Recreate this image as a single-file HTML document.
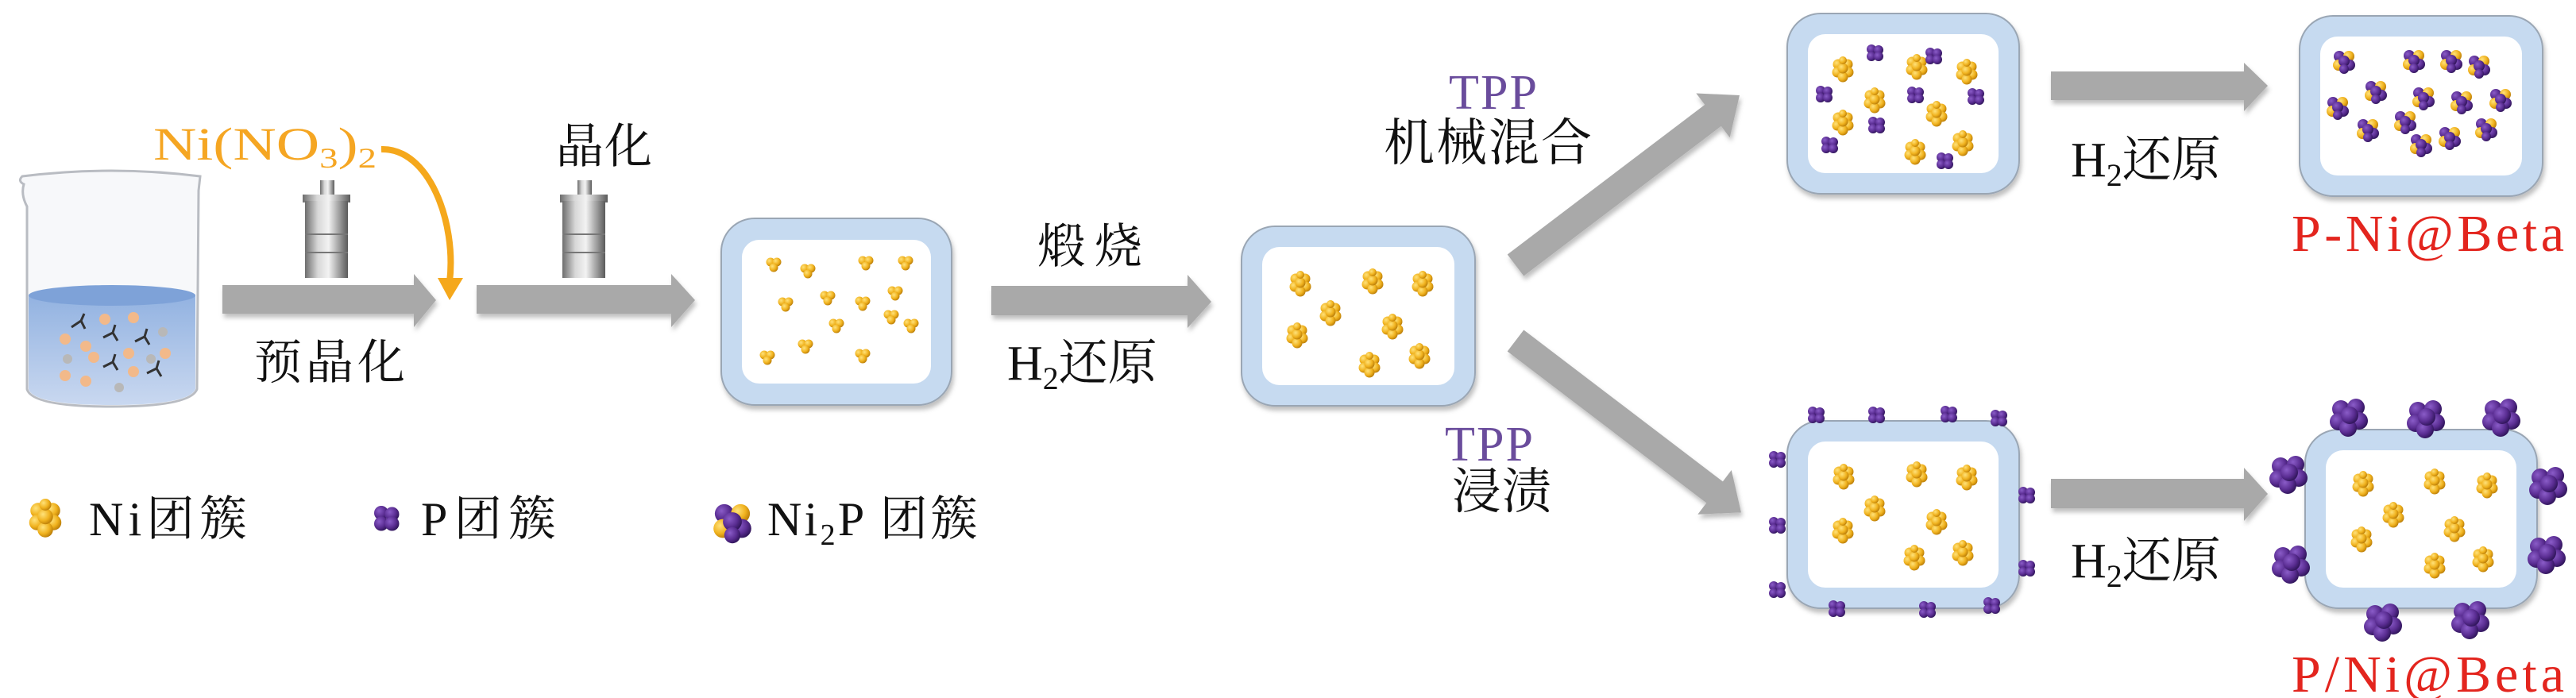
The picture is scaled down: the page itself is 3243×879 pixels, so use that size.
<!DOCTYPE html>
<html><head><meta charset="utf-8"><style>
html,body{margin:0;padding:0;background:#fff;}
svg{display:block;}
text{font-family:"Liberation Serif","Noto Serif CJK SC",serif;}
</style></head><body>
<svg width="3243" height="879" viewBox="0 0 3243 879" xmlns="http://www.w3.org/2000/svg" font-family="'Liberation Serif', 'Noto Serif CJK SC', serif">
<defs>
<radialGradient id="gy" cx="0.35" cy="0.35" r="0.7"><stop offset="0" stop-color="#ffe27a"/><stop offset="0.6" stop-color="#f0b21e"/><stop offset="1" stop-color="#b97c08"/></radialGradient>
<radialGradient id="gp" cx="0.35" cy="0.35" r="0.7"><stop offset="0" stop-color="#8a5cc8"/><stop offset="0.6" stop-color="#5a2d92"/><stop offset="1" stop-color="#2e1458"/></radialGradient>
<linearGradient id="liq" x1="0" y1="0" x2="0" y2="1"><stop offset="0" stop-color="#8fb0e0"/><stop offset="1" stop-color="#c9d8f0"/></linearGradient>
<linearGradient id="metal" x1="0" y1="0" x2="1" y2="0"><stop offset="0" stop-color="#6d6d6d"/><stop offset="0.3" stop-color="#d8d8d8"/><stop offset="0.55" stop-color="#f2f2f2"/><stop offset="1" stop-color="#5a5a5a"/></linearGradient>
<g id="ni"><circle cx="-6" cy="-6" r="6.5" fill="url(#gy)"/><circle cx="6" cy="-6" r="6.5" fill="url(#gy)"/><circle cx="-7" cy="4" r="6.5" fill="url(#gy)"/><circle cx="7" cy="4" r="6.5" fill="url(#gy)"/><circle cx="0" cy="10" r="6.5" fill="url(#gy)"/><circle cx="0" cy="-1" r="6.5" fill="url(#gy)"/><circle cx="0" cy="-11" r="5" fill="url(#gy)"/></g>
<g id="nis"><circle cx="-4" cy="-3" r="5.5" fill="url(#gy)"/><circle cx="4" cy="-3" r="5.5" fill="url(#gy)"/><circle cx="0" cy="4" r="5.5" fill="url(#gy)"/></g>
<g id="p"><circle cx="-4" cy="-4" r="6" fill="url(#gp)"/><circle cx="5" cy="-3" r="6" fill="url(#gp)"/><circle cx="-4" cy="5" r="6" fill="url(#gp)"/><circle cx="5" cy="5" r="6" fill="url(#gp)"/></g>
<g id="ni2p"><circle cx="-6" cy="-6" r="7" fill="url(#gp)"/><circle cx="6" cy="-6" r="7" fill="url(#gy)"/><circle cx="-7" cy="5" r="7" fill="url(#gy)"/><circle cx="7" cy="5" r="7" fill="url(#gp)"/><circle cx="0" cy="0" r="7" fill="url(#gp)"/><circle cx="0" cy="10" r="6" fill="url(#gp)"/></g>
<g id="pb"><circle cx="-11" cy="-10" r="11" fill="url(#gp)"/><circle cx="8" cy="-12" r="11" fill="url(#gp)"/><circle cx="-14" cy="6" r="11" fill="url(#gp)"/><circle cx="12" cy="5" r="11" fill="url(#gp)"/><circle cx="-2" cy="14" r="11" fill="url(#gp)"/><circle cx="0" cy="-2" r="11" fill="url(#gp)"/></g>
<filter id="sh" x="-10%" y="-10%" width="130%" height="140%"><feDropShadow dx="2" dy="5" stdDeviation="3" flood-color="#000" flood-opacity="0.25"/></filter>
</defs>

<path d="M30,232 Q22,228 28,222 Q140,208 252,222 L250,240 L248,490 Q240,512 140,512 Q40,512 34,490 L34,260 Q26,245 30,232 Z" fill="#f7f8fa" stroke="#b9bcc2" stroke-width="3"/>
<path d="M36,372 Q140,355 246,372 L246,490 Q238,510 140,510 Q42,510 36,490 Z" fill="url(#liq)"/>
<ellipse cx="141" cy="372" rx="105" ry="13" fill="#7ea2d8"/>
<g fill="#f2b98a"><circle cx="132" cy="402" r="7"/><circle cx="168" cy="400" r="7"/><circle cx="82" cy="427" r="7"/><circle cx="108" cy="436" r="7"/><circle cx="162" cy="445" r="7"/><circle cx="168" cy="468" r="7"/><circle cx="208" cy="445" r="7"/><circle cx="118" cy="450" r="7"/><circle cx="82" cy="473" r="7"/><circle cx="108" cy="480" r="7"/></g>
<g fill="#b8b8b8"><circle cx="205" cy="418" r="6"/><circle cx="85" cy="452" r="6"/><circle cx="190" cy="452" r="6"/><circle cx="150" cy="488" r="6"/></g>
<g stroke="#333" stroke-width="3" fill="none"><path d="M90,412 l12,-8 l5,10 m-5,-10 l4,-9"/><path d="M130,425 l12,-6 l6,10 m-6,-10 l3,-10"/><path d="M170,430 l12,-6 l6,10 m-6,-10 l3,-10"/><path d="M130,462 l12,-6 l6,10 m-6,-10 l3,-10"/><path d="M185,470 l12,-6 l6,10 m-6,-10 l3,-10"/></g>

<text x="193" y="201" font-size="58" fill="#f5a623" textLength="281" lengthAdjust="spacingAndGlyphs">Ni(NO<tspan font-size="36" dy="10">3</tspan><tspan dy="-10">)</tspan><tspan font-size="36" dy="10">2</tspan></text>
<path d="M480,188 C540,186 575,280 566,355" fill="none" stroke="#f5a81c" stroke-width="8"/>
<polygon points="551,350 583,350 566,378" fill="#f5a81c"/>

<g><rect x="403" y="227" width="18" height="20" fill="url(#metal)"/><rect x="381" y="245" width="60" height="10" fill="url(#metal)"/><rect x="384" y="253" width="54" height="97" fill="url(#metal)"/><line x1="384" y1="295" x2="438" y2="295" stroke="#777" stroke-width="2"/><line x1="384" y1="318" x2="438" y2="318" stroke="#777" stroke-width="2"/></g>
<g><rect x="727" y="227" width="18" height="20" fill="url(#metal)"/><rect x="705" y="245" width="60" height="10" fill="url(#metal)"/><rect x="708" y="253" width="54" height="97" fill="url(#metal)"/><line x1="708" y1="295" x2="762" y2="295" stroke="#777" stroke-width="2"/><line x1="708" y1="318" x2="762" y2="318" stroke="#777" stroke-width="2"/></g>

<g fill="#a9a9a9" filter="url(#sh)">
<polygon points="280,359 521,359 521,345 549,378 521,412 521,395 280,395"/>
<polygon points="600,359 845,359 845,345 875,378 845,412 845,395 600,395"/>
<polygon points="1248,360 1495,360 1495,346 1525,380 1495,413 1495,397 1248,397"/>
<polygon points="2582,90 2825,90 2825,79 2855,108 2825,140 2825,126 2582,126"/>
<polygon points="2582,603 2825,603 2825,589 2855,622 2825,656 2825,640 2582,640"/>
<polygon transform="translate(1908,334) rotate(-37.2)" points="0,-17 312,-17 312,-35 354,0 312,35 312,17 0,17"/>
<polygon transform="translate(1908,429) rotate(37.3)" points="0,-17 315,-17 315,-35 357,0 315,35 315,17 0,17"/>
</g>

<g stroke="#9aa6b4" stroke-width="2">
<rect x="908" y="275" width="290" height="235" rx="42" fill="#c6daf0" filter="url(#sh)"/>
<rect x="1563" y="285" width="294" height="226" rx="42" fill="#c6daf0" filter="url(#sh)"/>
<rect x="2250" y="17" width="292" height="227" rx="42" fill="#c6daf0" filter="url(#sh)"/>
<rect x="2895" y="20" width="306" height="227" rx="42" fill="#c6daf0" filter="url(#sh)"/>
<rect x="2250" y="530" width="292" height="236" rx="42" fill="#c6daf0" filter="url(#sh)"/>
<rect x="2902" y="541" width="292" height="225" rx="42" fill="#c6daf0" filter="url(#sh)"/>
</g>
<g fill="#fff">
<rect x="934" y="302" width="238" height="181" rx="22"/>
<rect x="1589" y="311" width="242" height="174" rx="22"/>
<rect x="2276" y="43" width="240" height="175" rx="22"/>
<rect x="2921" y="46" width="254" height="175" rx="22"/>
<rect x="2276" y="556" width="240" height="184" rx="22"/>
<rect x="2928" y="567" width="240" height="173" rx="22"/>
</g>

<use href="#nis" x="974" y="333"/><use href="#nis" x="1017" y="341"/><use href="#nis" x="1090" y="331"/><use href="#nis" x="1140" y="331"/><use href="#nis" x="989" y="383"/><use href="#nis" x="1042" y="375"/><use href="#nis" x="1086" y="382"/><use href="#nis" x="1127" y="369"/><use href="#nis" x="1122" y="399"/><use href="#nis" x="1147" y="410"/><use href="#nis" x="1053" y="410"/><use href="#nis" x="1014" y="436"/><use href="#nis" x="966" y="450"/><use href="#nis" x="1086" y="448"/>
<use href="#ni" x="1637" y="357"/><use href="#ni" x="1728" y="354"/><use href="#ni" x="1791" y="357"/><use href="#ni" x="1675" y="394"/><use href="#ni" x="1633" y="422"/><use href="#ni" x="1753" y="411"/><use href="#ni" x="1724" y="459"/><use href="#ni" x="1787" y="448"/>
<use href="#ni" x="2320" y="87"/><use href="#ni" x="2413" y="84"/><use href="#ni" x="2476" y="90"/><use href="#ni" x="2360" y="126"/><use href="#ni" x="2438" y="143"/><use href="#ni" x="2320" y="154"/><use href="#ni" x="2411" y="191"/><use href="#ni" x="2471" y="180"/>
<use href="#p" x="2360" y="66"/><use href="#p" x="2434" y="70"/><use href="#p" x="2296" y="118"/><use href="#p" x="2411" y="119"/><use href="#p" x="2487" y="121"/><use href="#p" x="2362" y="157"/><use href="#p" x="2303" y="182"/><use href="#p" x="2448" y="202"/>
<use href="#ni2p" x="2951" y="77"/><use href="#ni2p" x="3039" y="76"/><use href="#ni2p" x="3086" y="76"/><use href="#ni2p" x="3121" y="83"/><use href="#ni2p" x="2991" y="115"/><use href="#ni2p" x="2943" y="135"/><use href="#ni2p" x="3051" y="123"/><use href="#ni2p" x="3099" y="128"/><use href="#ni2p" x="3148" y="125"/><use href="#ni2p" x="2981" y="163"/><use href="#ni2p" x="3028" y="153"/><use href="#ni2p" x="3130" y="162"/><use href="#ni2p" x="3084" y="173"/><use href="#ni2p" x="3048" y="182"/>
<use href="#ni" x="2321" y="600"/><use href="#ni" x="2413" y="597"/><use href="#ni" x="2476" y="601"/><use href="#ni" x="2360" y="640"/><use href="#ni" x="2320" y="668"/><use href="#ni" x="2438" y="657"/><use href="#ni" x="2410" y="702"/><use href="#ni" x="2471" y="696"/>
<use href="#p" x="2286" y="522"/><use href="#p" x="2362" y="522"/><use href="#p" x="2453" y="521"/><use href="#p" x="2516" y="526"/><use href="#p" x="2237" y="578"/><use href="#p" x="2237" y="661"/><use href="#p" x="2237" y="742"/><use href="#p" x="2551" y="623"/><use href="#p" x="2551" y="715"/><use href="#p" x="2312" y="766"/><use href="#p" x="2426" y="767"/><use href="#p" x="2507" y="762"/>
<use href="#ni" x="2975" y="609"/><use href="#ni" x="3065" y="606"/><use href="#ni" x="3131" y="611"/><use href="#ni" x="3013" y="648"/><use href="#ni" x="2973" y="679"/><use href="#ni" x="3090" y="666"/><use href="#ni" x="3065" y="712"/><use href="#ni" x="3126" y="704"/>
<use href="#pb" x="2958" y="525"/><use href="#pb" x="3055" y="527"/><use href="#pb" x="3150" y="525"/><use href="#pb" x="2882" y="597"/><use href="#pb" x="3209" y="611"/><use href="#pb" x="2885" y="710"/><use href="#pb" x="3207" y="698"/><use href="#pb" x="3001" y="783"/><use href="#pb" x="3111" y="780"/>

<g fill="#111">
<text x="700" y="205" font-size="60" textLength="121">晶化</text>
<text x="320" y="477" font-size="60" textLength="190">预晶化</text>
<text x="1306" y="331" font-size="60" textLength="132">煅烧</text>
<text x="1268" y="478" font-size="62">H<tspan font-size="40" dy="12">2</tspan><tspan dy="-12">还原</tspan></text>
<text x="1742" y="202" font-size="64" textLength="262">机械混合</text>
<text x="1828" y="640" font-size="62" textLength="125">浸渍</text>
<text x="2607" y="222" font-size="62">H<tspan font-size="40" dy="12">2</tspan><tspan dy="-12">还原</tspan></text>
<text x="2607" y="727" font-size="62">H<tspan font-size="40" dy="12">2</tspan><tspan dy="-12">还原</tspan></text>
<text x="112" y="674" font-size="60" textLength="199">Ni团簇</text>
<text x="530" y="674" font-size="60" textLength="170">P团簇</text>
<text x="966" y="674" font-size="60" textLength="265">Ni<tspan font-size="38" dy="12">2</tspan><tspan dy="-12">P 团簇</tspan></text>
</g>
<g fill="#6a4c9c">
<text x="1824" y="137" font-size="62" textLength="111">TPP</text>
<text x="1819" y="580" font-size="62" textLength="111">TPP</text>
</g>
<g fill="#e3251e">
<text x="2885" y="316" font-size="66" textLength="343">P-Ni@Beta</text>
<text x="2885" y="871" font-size="66" textLength="343">P/Ni@Beta</text>
</g>
<g transform="translate(57,652) scale(1.5)"><use href="#ni"/></g>
<g transform="translate(486,652) scale(1.5)"><use href="#p"/></g>
<g transform="translate(922,657) scale(1.7)"><use href="#ni2p"/></g>
</svg>
</body></html>
